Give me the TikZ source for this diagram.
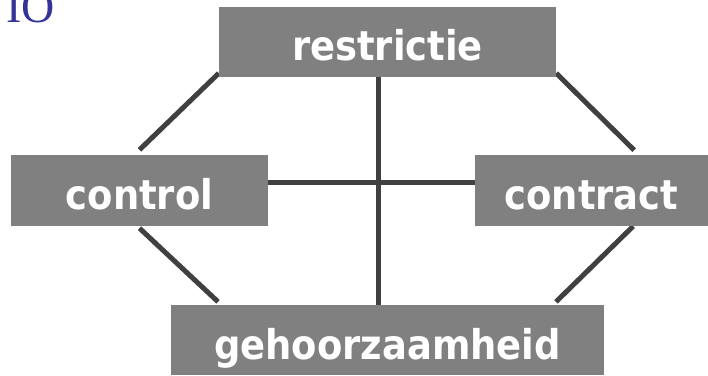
\documentclass[tikz,border=0pt]{standalone}
\usepackage{fontspec}
\newfontfamily\boxfont{DejaVu Sans Condensed}[BoldFont=* Bold]
\newfontfamily\titlefont{Liberation Serif}
\usetikzlibrary{calc,backgrounds}
\definecolor{boxgray}{RGB}{128,128,128}
\definecolor{linegray}{RGB}{64,64,64}
\definecolor{titleblue}{RGB}{51,51,153}
\tikzset{
  termbox/.style={rectangle, fill=boxgray, text=white, inner sep=0pt,
    minimum height=70pt, text height=38pt, text depth=0pt,
    font=\boxfont\bfseries\fontsize{41}{41}\selectfont},
  link/.style={draw=linegray, line width=5pt}
}
\begin{document}
\begin{tikzpicture}[x=1pt,y=1pt]
\useasboundingbox (0,0) rectangle (708,375);
\node[anchor=base west, text=titleblue, inner sep=0pt,
      font=\titlefont\fontsize{46}{46}\selectfont] (title) at (6,352.5) {IO};

\node[termbox, minimum width=337pt] (r) at (387.5,333) {restrictie};
\node[termbox, minimum width=257pt, minimum height=71pt] (c) at (139.5,184.5) {control};
\node[termbox, minimum width=233pt, minimum height=71pt] (k) at (591.5,184.5) {contract};
\node[termbox, minimum width=433pt] (g) at (387.5,35) {gehoorzaamheid};

\begin{scope}[on background layer]
  % octagon-like frame of diagonals
  \draw[link] ($(r.south west)+(0,4)$) -- ($(c.north)+(0,5)$);
  \draw[link] ($(r.south east)+(0,4)$) -- ($(r.south east)+(78,-73)$);
  \draw[link] ($(c.south)+(0,-2)$) -- ($(g.north)+(-169.5,3)$);
  \draw[link] ($(r.south east)+(77,-149)$) -- ($(g.north)+(168.5,3)$);
  % cross in the middle
  \draw[link] ([xshift=-9.5pt]r.south) -- ([xshift=-9.5pt]r.south |- g.north);
  \draw[link] ([yshift=7.5pt]c.east) -- ([yshift=7.5pt]c.east -| k.west);
\end{scope}
\end{tikzpicture}
\end{document}
